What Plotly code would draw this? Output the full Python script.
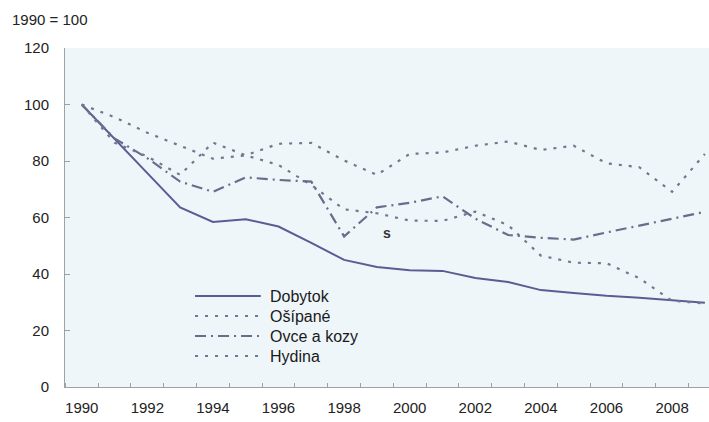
import plotly.graph_objects as go

years = list(range(1990, 2010))
dobytok = [100, 88, 75.7, 63.6, 58.4, 59.4, 56.8, 51.0, 45.0, 42.5, 41.3, 41.1, 38.6, 37.2, 34.3, 33.3, 32.3, 31.6, 30.8, 29.8]
osipane = [100, 95.5, 90.0, 85.5, 80.8, 82.0, 78.6, 71.5, 62.9, 61.5, 58.9, 58.8, 62.1, 57.3, 46.5, 44.0, 43.8, 38.5, 30.5, 29.6]
ovce = [100, 88.0, 81.0, 72.7, 69.1, 74.2, 73.3, 72.7, 53.3, 63.6, 65.2, 67.5, 59.6, 53.8, 52.8, 52.2, 54.7, 57.2, 59.7, 62.0]
hydina = [100, 86.5, 81.6, 75.1, 86.5, 82.0, 86.1, 86.4, 80.2, 75.1, 82.5, 83.0, 85.4, 86.9, 83.9, 85.4, 79.2, 77.8, 69.1, 82.5]

x_tick_vals = list(range(1990, 2010, 2))
x_tick_labels = [str(v) for v in x_tick_vals]
y_tick_vals = [0, 20, 40, 60, 80, 100, 120]
y_tick_labels = [str(v) for v in y_tick_vals]

series_names = ["Dobytok", "Ošípané", "Ovce a kozy", "Hydina"]
series_values = [dobytok, osipane, ovce, hydina]
series_colors = ["#5a5c94", "#74768f", "#6a6c8a", "#74768f"]
series_dashes = ["solid", "3px,7px", "11px,5px,2px,5px", "3px,7px"]
series_widths = [2.0, 2.2, 2.2, 2.2]

FONT = "Liberation Sans, Arial, sans-serif"

fig = go.Figure()
for name, vals, color, dash, w in zip(series_names, series_values, series_colors, series_dashes, series_widths):
    fig.add_trace(go.Scatter(
        x=years, y=vals, mode="lines", name=name, showlegend=False,
        line=dict(color=color, dash=dash, width=w),
    ))

# legend drawn as key lines + text (paper coordinates)
leg_x0, leg_x1, leg_tx = 0.2019, 0.3040, 0.3150
leg_rows = [0.2684, 0.2094, 0.1504, 0.0914]
for name, color, dash, w, ly in zip(series_names, series_colors, series_dashes, series_widths, leg_rows):
    fig.add_shape(type="line", xref="paper", yref="paper", x0=leg_x0, x1=leg_x1, y0=ly, y1=ly,
                  line=dict(color=color, dash=dash, width=w))
    fig.add_annotation(xref="paper", yref="paper", x=leg_tx, y=ly, xanchor="left", yanchor="middle",
                       text=name, showarrow=False,
                       font=dict(size=16, color="#1a1a1a", family=FONT))

fig.add_annotation(x=1999.3, y=54.5, text="<b>s</b>", showarrow=False,
                   font=dict(size=14, color="#333333", family=FONT))
fig.add_annotation(xref="paper", yref="paper", x=-0.0854, y=1.083, xanchor="left", yanchor="middle",
                   text="1990 = 100", showarrow=False,
                   font=dict(size=15, color="#222222", family=FONT))

fig.update_layout(
    width=709, height=422,
    margin=dict(l=65, r=0, t=48, b=35),
    paper_bgcolor="white",
    plot_bgcolor="#eff6fa",
    font=dict(family=FONT, size=15, color="#222222"),
    showlegend=False,
    xaxis=dict(
        range=[1989.49, 2009.125],
        tickmode="array", tickvals=x_tick_vals, ticktext=x_tick_labels,
        ticks="", showgrid=False, zeroline=False,
        showline=True, linecolor="#a0a0a0", linewidth=1,
        tickfont=dict(size=15, color="#222222", family=FONT),
        ticklabelstandoff=7,
        minor=dict(tick0=1990.5, dtick=1, ticks="inside", ticklen=4, tickcolor="#a0a0a0", showgrid=False),
    ),
    yaxis=dict(
        range=[0, 120],
        tickmode="array", tickvals=y_tick_vals, ticktext=y_tick_labels,
        ticks="inside", ticklen=5, tickcolor="#a0a0a0",
        showgrid=False, zeroline=False,
        showline=True, linecolor="#a0a0a0", linewidth=1,
        tickfont=dict(size=15, color="#222222", family=FONT),
        ticklabelstandoff=12,
    ),
)

fig.write_html("out.html", config={"displayModeBar": False},
               post_script="document.body.style.margin='0';document.body.style.overflow='hidden';")
